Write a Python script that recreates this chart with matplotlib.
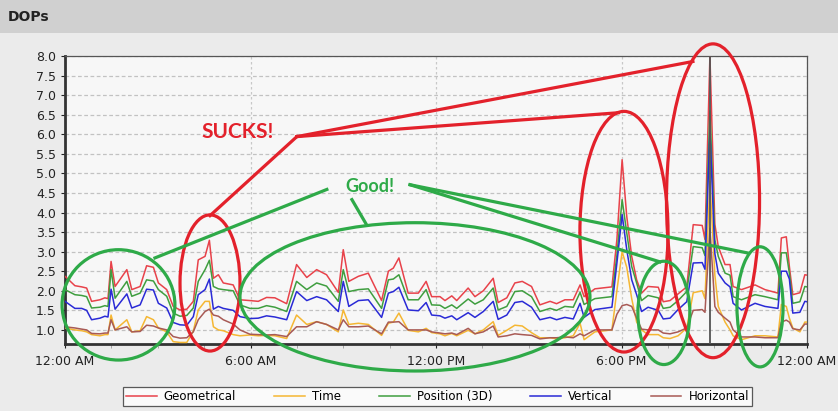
import numpy as np
import matplotlib.pyplot as plt
from matplotlib.patches import Ellipse, Rectangle
from matplotlib.ticker import MultipleLocator

# sample times (hours since midnight)
hours = [0.00, 0.32, 0.54, 0.70, 0.86, 1.13, 1.29, 1.39, 1.49, 1.62,
         2.00, 2.16, 2.43, 2.64, 2.86, 3.02, 3.29, 3.50, 3.72, 3.94,
         4.15, 4.31, 4.53, 4.67, 4.80, 4.96, 5.12, 5.44, 5.66, 5.98,
         6.25, 6.52, 6.79, 7.17, 7.49, 7.82, 8.14, 8.46, 8.84, 9.00,
         9.18, 9.49, 9.81, 10.24, 10.46, 10.62, 10.80, 11.10, 11.43, 11.68,
         11.86, 12.13, 12.29, 12.51, 12.67, 13.04, 13.26, 13.53, 13.85, 14.01,
         14.29, 14.55, 14.79, 15.09, 15.36, 15.69, 15.90, 16.17, 16.44, 16.66,
         16.79, 17.14, 17.69, 17.85, 18.02, 18.17, 18.33, 18.49, 18.65, 18.86,
         19.19, 19.35, 19.57, 19.83, 20.11, 20.32, 20.61, 20.70, 20.86, 21.02,
         21.13, 21.35, 21.51, 21.61, 21.88, 22.32, 22.64, 23.06, 23.17, 23.33,
         23.43, 23.54, 23.77, 23.93, 24.00]

geometrical = [2.37, 2.13, 2.10, 2.07, 1.73, 1.77, 1.82, 1.80, 2.75, 2.11,
               2.54, 2.03, 2.11, 2.64, 2.60, 2.20, 2.03, 1.60, 1.51, 1.53,
               1.73, 2.79, 2.88, 3.29, 2.32, 2.41, 2.20, 2.15, 1.77, 1.75,
               1.73, 1.83, 1.82, 1.67, 2.67, 2.34, 2.54, 2.41, 1.96, 3.05,
               2.24, 2.37, 2.45, 1.75, 2.50, 2.58, 2.84, 1.94, 1.94, 2.24,
               1.85, 1.85, 1.75, 1.87, 1.75, 2.07, 1.85, 2.00, 2.32, 1.70,
               1.82, 2.20, 2.24, 2.11, 1.64, 1.73, 1.67, 1.77, 1.77, 2.15,
               1.85, 2.05, 2.10, 3.30, 5.35, 3.90, 2.88, 2.28, 1.94, 2.11,
               2.09, 1.72, 1.75, 1.92, 2.10, 3.69, 3.67, 3.31, 8.00, 3.70,
               3.13, 2.67, 2.67, 2.11, 2.03, 2.15, 2.03, 1.94, 3.35, 3.38,
               2.62, 1.90, 1.95, 2.41, 2.40]

time_dop = [1.05, 1.00, 0.98, 0.95, 0.88, 0.85, 0.88, 0.88, 1.38, 1.00,
            1.26, 0.95, 0.98, 1.34, 1.26, 1.05, 0.95, 0.70, 0.68, 0.68,
            0.97, 1.51, 1.73, 1.73, 1.08, 1.00, 0.98, 0.88, 0.85, 0.87,
            0.85, 0.86, 0.85, 0.78, 1.38, 1.14, 1.21, 1.14, 0.95, 1.51,
            1.14, 1.17, 1.14, 0.86, 1.17, 1.20, 1.43, 0.99, 0.95, 1.04,
            0.93, 0.90, 0.85, 0.91, 0.85, 0.99, 0.90, 1.00, 1.21, 0.86,
            0.99, 1.12, 1.10, 0.93, 0.80, 0.80, 0.77, 0.80, 0.85, 1.17,
            0.75, 0.95, 1.00, 2.00, 3.00, 2.60, 1.80, 1.20, 1.00, 0.88,
            0.88, 0.80, 0.78, 0.85, 1.05, 1.95, 2.00, 1.80, 4.80, 2.40,
            1.60, 1.20, 1.00, 0.85, 0.75, 0.85, 0.85, 0.82, 1.65, 1.60,
            1.30, 1.05, 0.95, 1.20, 1.20]

position_3d = [2.03, 1.90, 1.88, 1.85, 1.56, 1.58, 1.62, 1.60, 2.54, 1.81,
               2.24, 1.86, 1.94, 2.28, 2.25, 2.03, 1.86, 1.43, 1.35, 1.37,
               1.56, 2.24, 2.54, 2.78, 2.11, 2.05, 2.03, 2.00, 1.64, 1.55,
               1.55, 1.62, 1.58, 1.47, 2.24, 2.03, 2.20, 2.12, 1.73, 2.54,
               1.98, 2.03, 2.05, 1.55, 2.28, 2.30, 2.41, 1.77, 1.77, 2.03,
               1.64, 1.63, 1.55, 1.64, 1.55, 1.79, 1.66, 1.77, 2.07, 1.51,
               1.60, 1.98, 2.00, 1.85, 1.47, 1.55, 1.50, 1.60, 1.58, 1.96,
               1.65, 1.80, 1.85, 2.90, 4.33, 3.48, 2.62, 2.20, 1.75, 1.88,
               1.82, 1.55, 1.58, 1.75, 1.98, 3.13, 3.10, 2.90, 6.60, 3.30,
               2.88, 2.45, 2.40, 1.85, 1.77, 1.90, 1.85, 1.77, 2.97, 2.97,
               2.45, 1.68, 1.72, 2.11, 2.10]

vertical = [1.73, 1.55, 1.55, 1.50, 1.26, 1.30, 1.35, 1.33, 2.04, 1.53,
            1.92, 1.56, 1.64, 2.04, 2.02, 1.68, 1.56, 1.19, 1.13, 1.12,
            1.34, 1.90, 2.03, 2.30, 1.53, 1.60, 1.55, 1.50, 1.34, 1.29,
            1.30, 1.36, 1.33, 1.26, 1.98, 1.75, 1.85, 1.77, 1.47, 2.24,
            1.60, 1.75, 1.77, 1.32, 1.94, 1.98, 2.09, 1.51, 1.49, 1.70,
            1.38, 1.36, 1.30, 1.36, 1.26, 1.44, 1.32, 1.47, 1.73, 1.27,
            1.38, 1.70, 1.73, 1.58, 1.26, 1.32, 1.26, 1.32, 1.28, 1.68,
            1.32, 1.52, 1.58, 2.70, 3.95, 3.05, 2.28, 1.90, 1.47, 1.58,
            1.50, 1.28, 1.30, 1.52, 1.72, 2.71, 2.72, 2.55, 6.10, 2.95,
            2.45, 2.20, 2.10, 1.68, 1.51, 1.68, 1.60, 1.55, 2.50, 2.50,
            2.30, 1.43, 1.45, 1.73, 1.72]

horizontal = [1.08, 1.05, 1.02, 1.00, 0.91, 0.90, 0.92, 0.92, 1.26, 1.00,
              1.08, 0.95, 0.96, 1.12, 1.10, 1.05, 1.00, 0.83, 0.79, 0.80,
              0.95, 1.26, 1.47, 1.53, 1.38, 1.35, 1.26, 1.15, 1.00, 0.89,
              0.88, 0.87, 0.88, 0.83, 1.08, 1.08, 1.21, 1.14, 1.00, 1.26,
              1.08, 1.08, 1.10, 0.90, 1.20, 1.20, 1.21, 1.00, 1.00, 1.00,
              0.95, 0.92, 0.90, 0.92, 0.88, 1.04, 0.90, 0.95, 1.10, 0.82,
              0.85, 0.90, 0.88, 0.86, 0.77, 0.80, 0.80, 0.82, 0.80, 0.90,
              0.85, 1.00, 1.00, 1.40, 1.62, 1.65, 1.60, 1.30, 1.02, 1.00,
              1.00, 0.92, 0.90, 0.95, 1.05, 1.50, 1.52, 1.45, 3.60, 1.60,
              1.45, 1.30, 1.20, 1.00, 0.82, 0.82, 0.80, 0.80, 1.20, 1.25,
              1.20, 1.03, 1.00, 1.15, 1.15]

series_names = ['Geometrical', 'Time', 'Position (3D)', 'Vertical', 'Horizontal']
series_colors = ['#e8424a', '#f5b733', '#3f9e3f', '#2a2ad6', '#a85a55']
x_tick_labels = ['12:00 AM', '6:00 AM', '12:00 PM', '6:00 PM', '12:00 AM']

fig = plt.figure(figsize=(8.38, 4.11), dpi=100, facecolor='#ebebeb')

# title bar
fig.patches.append(Rectangle((0, 1 - 33 / 411), 1, 33 / 411, transform=fig.transFigure,
                             facecolor='#d0d0d0', edgecolor='none', zorder=0))
fig.text(8 / 838, 1 - 17 / 411, 'DOPs', fontsize=10, fontweight='bold',
         color='#222222', va='center', ha='left')

ax = fig.add_axes([65 / 838, 1 - 344 / 411, 742 / 838, 288 / 411])
ax.set_facecolor('#f7f7f7')

for vals, name, col in zip([geometrical, time_dop, position_3d, vertical, horizontal],
                           series_names, series_colors):
    ax.plot(hours, vals, color=col, lw=1.1, label=name, zorder=3)

# cursor at the worst sample
t_peak = hours[int(np.argmax(geometrical))]
ax.axvline(t_peak, color='#555555', lw=1.3, zorder=4)

ax.set_xlim(0, 24)
ax.set_ylim(0.64, 8.0)
ax.set_yticks(np.arange(1.0, 8.01, 0.5))
ax.set_yticklabels(['%.1f' % v for v in np.arange(1.0, 8.01, 0.5)])
ax.set_xticks([0, 6, 12, 18, 24])
ax.set_xticklabels(x_tick_labels)
ax.xaxis.set_minor_locator(MultipleLocator(1.5))
ax.tick_params(axis='both', labelsize=9, colors='#222222', length=3, width=0.8)
ax.tick_params(axis='x', which='minor', length=3, color='#999999')
ax.tick_params(axis='x', pad=5)
ax.grid(axis='y', color='#c2c2c2', ls=(0, (3, 2)), lw=0.9)
ax.grid(axis='x', which='major', color='#c8c8c8', ls=(0, (2, 2)), lw=0.9)

for side in ['left', 'bottom']:
    ax.spines[side].set_linewidth(2)
    ax.spines[side].set_color('#333333')
for side in ['top', 'right']:
    ax.spines[side].set_linewidth(0.9)
    ax.spines[side].set_color('#555555')

# red / green markup
red = '#e3212b'
green = '#2eaa48'
for cx, cy, w, h in [(4.69, 2.20, 1.94, 3.48), (18.08, 3.51, 2.85, 6.15), (20.96, 4.30, 3.01, 8.02)]:
    ax.add_patch(Ellipse((cx, cy), w, h, fill=False, ec=red, lw=2.3, clip_on=False, zorder=6))
for cx, cy, w, h in [(1.73, 1.64, 3.65, 2.82), (11.32, 1.845, 11.32, 3.79),
                     (19.37, 1.435, 1.68, 2.64), (22.48, 1.59, 1.49, 3.07)]:
    ax.add_patch(Ellipse((cx, cy), w, h, fill=False, ec=green, lw=2.3, clip_on=False, zorder=6))

for x1, y1 in [(4.69, 3.92), (17.9, 6.55), (20.31, 7.86)]:
    ax.plot([7.50, x1], [5.94, y1], color=red, lw=2.3, clip_on=False, zorder=6)
ax.plot([8.47, 2.91], [4.59, 2.84], color=green, lw=2.3, clip_on=False, zorder=6)
ax.plot([9.28, 9.73], [4.33, 3.72], color=green, lw=2.3, clip_on=False, zorder=6)
ax.plot([11.16, 19.24], [4.71, 2.74], color=green, lw=2.3, clip_on=False, zorder=6)
ax.plot([11.16, 22.06], [4.71, 2.97], color=green, lw=2.3, clip_on=False, zorder=6)

ax.text(5.60, 6.05, 'SUCKS!', color=red, fontsize=15, fontweight='bold',
        family='Lato', ha='center', va='center', zorder=7)
ax.text(9.86, 4.66, 'Good!', color=green, fontsize=13, fontweight='bold',
        family='Lato', ha='center', va='center', zorder=7)

leg = fig.legend(loc='lower left', bbox_to_anchor=(123 / 838, 1 - 406 / 411, 629 / 838, 20 / 411),
                 ncol=5, mode='expand', fontsize=8.5, frameon=True, fancybox=False,
                 handlelength=2.6, handletextpad=0.6, borderpad=0.25, borderaxespad=0)
leg.get_frame().set_edgecolor('#333333')
leg.get_frame().set_linewidth(0.9)
leg.get_frame().set_facecolor('white')

plt.savefig('out.png', dpi=100, facecolor=fig.get_facecolor())
